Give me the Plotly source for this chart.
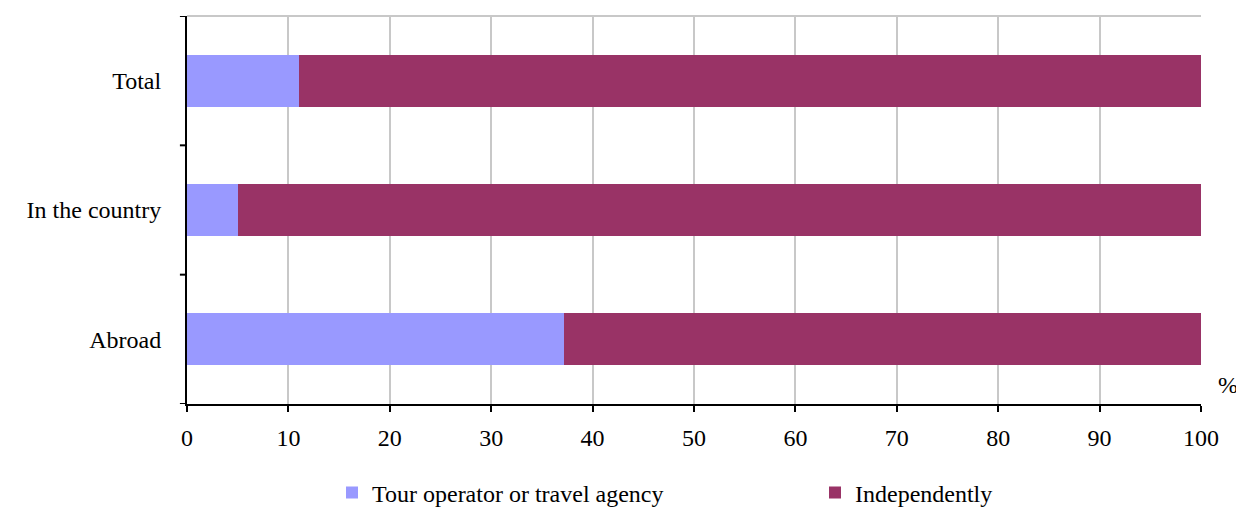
import plotly.graph_objects as go

categories = ["Abroad", "In the country", "Total"]
tour_operator = [37.2, 5.0, 11.0]
independently = [62.8, 95.0, 89.0]
x_ticks = [0, 10, 20, 30, 40, 50, 60, 70, 80, 90, 100]

font_family = "Liberation Serif, Times New Roman, serif"

fig = go.Figure()
fig.add_trace(go.Bar(
    y=categories, x=tour_operator, orientation="h",
    name="Tour operator or travel agency",
    marker=dict(color="#9999ff", line=dict(width=0)),
))
fig.add_trace(go.Bar(
    y=categories, x=independently, orientation="h",
    name="Independently",
    marker=dict(color="#993366", line=dict(width=0)),
))

# page body has an 8px margin; figure is sized/offset to compensate
fig.update_layout(
    barmode="stack",
    bargap=0.6,
    width=1236, height=499,
    margin=dict(l=179, r=43, t=8, b=103, autoexpand=False),
    plot_bgcolor="white", paper_bgcolor="white",
    font=dict(family=font_family, size=24, color="black"),
    showlegend=True,
    legend=dict(
        orientation="h", x=0.143, xanchor="left", y=-0.229, yanchor="middle",
        font=dict(size=24), entrywidth=438, itemwidth=30,
        traceorder="normal", bgcolor="rgba(0,0,0,0)",
    ),
    xaxis=dict(
        range=[0, 100], tickvals=x_ticks, ticktext=[str(v) for v in x_ticks],
        showgrid=True, gridcolor="#c8c8c8", gridwidth=2,
        ticks="outside", ticklen=6, tickwidth=2, tickcolor="black",
        ticklabelstandoff=5,
        showline=True, linecolor="black", linewidth=2,
        zeroline=False, mirror=False,
    ),
    yaxis=dict(
        categoryorder="array", categoryarray=categories,
        showgrid=False,
        ticks="", showline=True, linecolor="black", linewidth=2,
        ticklabelstandoff=19,
        range=[-0.5, 2.5],
    ),
    shapes=[
        dict(type="line", xref="paper", yref="paper", x0=0, x1=1, y0=1, y1=1,
             line=dict(color="#c8c8c8", width=2)),
    ] + [
        dict(type="line", xref="paper", yref="y", x0=-0.007, x1=0, y0=b, y1=b,
             line=dict(color="black", width=2))
        for b in [-0.5, 0.5, 1.5, 2.5]
    ],
    annotations=[
        dict(text="%", xref="paper", yref="paper", x=1.0266, y=0.049,
             xanchor="center", yanchor="middle", showarrow=False,
             font=dict(size=24)),
    ],
)

fig.write_html("out.html")
